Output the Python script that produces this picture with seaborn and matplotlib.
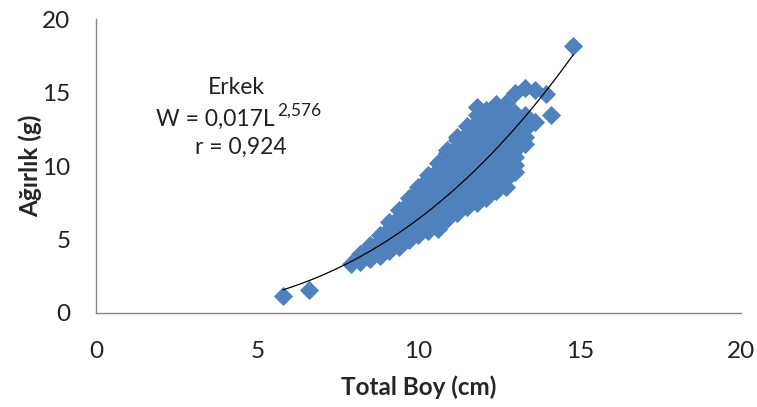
import matplotlib
matplotlib.use("Agg")
import matplotlib.pyplot as plt
import numpy as np
import pandas as pd
import seaborn as sns

# Weight readings (g) grouped by total length (cm)
boy_sutun = [5.8, 6.6, 7.9, 8.2, 8.5, 8.8, 9.1, 9.4, 9.7, 10.0, 10.3, 10.6,
             10.9, 11.2, 11.5, 11.8, 12.1, 12.4, 12.7, 13.0, 13.3, 13.6,
             13.95, 14.1, 14.8]
agirlik_sutun = [
    [1.15],
    [1.55],
    [3.3],
    [3.5, 4.0],
    [3.7, 4.2, 4.6],
    [3.9, 4.4, 4.9, 5.3],
    [4.2, 4.7, 5.2, 5.7, 6.2],
    [4.5, 5.0, 5.5, 6.0, 6.5, 7.0],
    [5.0, 5.5, 6.0, 6.5, 7.0, 7.5, 7.8],
    [5.3, 5.8, 6.3, 6.8, 7.3, 7.8, 8.3, 8.6],
    [5.6, 6.1, 6.6, 7.1, 7.6, 8.1, 8.6, 9.1, 9.4],
    [5.7, 6.2, 6.7, 7.2, 7.7, 8.2, 8.7, 9.2, 9.7, 10.2],
    [6.4, 6.9, 7.4, 7.9, 8.4, 8.9, 9.4, 9.9, 10.4, 10.9, 11.1],
    [6.8, 7.3, 7.8, 8.3, 8.8, 9.3, 9.8, 10.3, 10.8, 11.3, 11.8, 12.0],
    [7.2, 7.7, 8.2, 8.7, 9.2, 9.7, 10.2, 10.7, 11.2, 11.7, 12.2, 12.7],
    [7.5, 8.0, 8.5, 9.0, 9.5, 10.0, 10.5, 11.0, 11.5, 12.0, 12.5, 13.0, 13.5, 14.0],
    [7.8, 8.3, 8.8, 9.3, 9.8, 10.3, 10.8, 11.3, 11.8, 12.3, 12.8, 13.3, 13.8],
    [8.3, 8.8, 9.3, 9.8, 10.3, 10.8, 11.3, 11.8, 12.3, 12.8, 13.3, 13.8, 14.2],
    [8.6, 9.1, 9.6, 10.1, 10.6, 11.1, 11.6, 12.1, 12.6, 13.1, 13.6, 14.3],
    [9.6, 10.1, 10.6, 11.1, 11.6, 12.1, 12.6, 13.1, 13.6, 15.0],
    [11.5, 12.0, 12.5, 13.0, 13.5, 15.3],
    [13.0, 15.2],
    [14.9],
    [13.5],
    [18.2],
]

# Power trendline printed on the chart: W = a * L^b
a_coef = 0.017
b_coef = 2.576

boy = [L for L, ws in zip(boy_sutun, agirlik_sutun) for _ in ws]
agirlik = [w for ws in agirlik_sutun for w in ws]
df = pd.DataFrame({"boy": boy, "agirlik": agirlik})

sns.set_style("white")
plt.rcParams["font.family"] = ["Lato", "DejaVu Sans"]

fig = plt.figure(figsize=(7.57, 4.07), dpi=100)
ax = fig.add_axes([0.1268, 0.231, 0.852, 0.722])

sns.scatterplot(data=df, x="boy", y="agirlik", marker="D", s=95,
                color="#4F81BD", linewidth=0, ax=ax, zorder=2)

trend_x = np.linspace(min(boy), max(boy), 200)
ax.plot(trend_x, a_coef * trend_x ** b_coef, color="black", linewidth=0.9, zorder=3)

ax.set_xlim(0, 20)
ax.set_ylim(0, 20)
ax.set_xticks([0, 5, 10, 15, 20])
ax.set_yticks([0, 5, 10, 15, 20])
ax.tick_params(length=0, labelsize=17.5, colors="#222222")
ax.tick_params(axis="x", pad=20)
ax.tick_params(axis="y", pad=18.5)

sns.despine(ax=ax)
for side in ["left", "bottom"]:
    ax.spines[side].set_color("#868686")
    ax.spines[side].set_linewidth(1.0)

ax.set_xlabel("Total Boy (cm)", fontsize=17.5, fontweight="bold", labelpad=10)
ax.set_ylabel("Ağırlık (g)", fontsize=17.5, fontweight="bold", labelpad=0)

ax.text(4.34, 15.35, "Erkek", fontsize=16.5, ha="center", va="center", color="#222222")
eq = ax.text(3.7, 13.2, "W = 0,017L", fontsize=16.5, ha="center", va="center", color="#222222")
ax.annotate("2,576", xy=(1.02, 0.9), xycoords=eq, fontsize=12.5, ha="left", va="center",
            color="#222222")
ax.text(4.49, 11.25, "r = 0,924", fontsize=16.5, ha="center", va="center", color="#222222")

fig.savefig("out.png", dpi=100)
